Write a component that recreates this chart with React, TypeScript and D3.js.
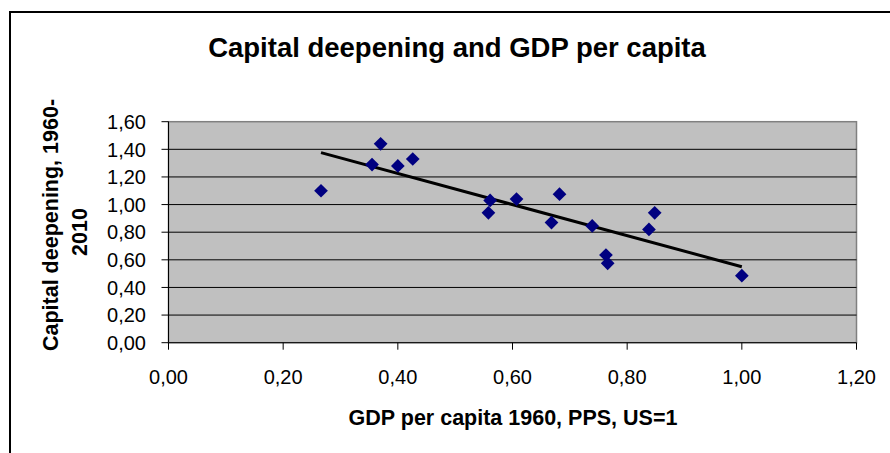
import React from "react";
import * as d3 from "d3";

const gdpPerCapita1960 = [0.266, 0.355, 0.370, 0.400, 0.426, 0.558, 0.561, 0.607, 0.668, 0.682, 0.739, 0.763, 0.766, 0.838, 0.848, 1.000];
const capitalDeepening = [1.10, 1.29, 1.44, 1.28, 1.33, 0.94, 1.03, 1.04, 0.87, 1.075, 0.845, 0.635, 0.575, 0.82, 0.94, 0.485];
const trendX = [0.266, 1.0];
const trendY = [1.376, 0.550];
const xTicks = [0, 0.2, 0.4, 0.6, 0.8, 1.0, 1.2];
const yTicks = [0, 0.2, 0.4, 0.6, 0.8, 1.0, 1.2, 1.4, 1.6];
const title = "Capital deepening and GDP per capita";
const xTitle = "GDP per capita 1960, PPS, US=1";
const yTitleLines = ["Capital deepening, 1960-", "2010"];

const W = 890, H = 453;
const plot = { left: 168.5, right: 856.5, top: 121.7, bottom: 342.7 };
const FONT = "'Liberation Sans', Arial, sans-serif";
const fmt = (v: number) => d3.format(".2f")(v).replace(".", ",");

export default function App() {
  const x = d3.scaleLinear().domain([0, 1.2]).range([plot.left, plot.right]);
  const y = d3.scaleLinear().domain([0, 1.6]).range([plot.bottom, plot.top]);
  const line = d3.line<number>().x((d) => x(d)).y((_, i) => y(trendY[i]));
  const diamond = d3.symbol().type(d3.symbolDiamond2).size(120)();

  return (
    <svg width={W} height={H} style={{ position: "absolute", left: 0, top: 0, background: "#fff" }} fontFamily={FONT}>
      <rect x={0} y={0} width={W} height={H} fill="#fff" />
      {/* outer chart border */}
      <path d={`M10,${H + 5} L10,12 L${W + 5},12`} fill="none" stroke="#000" strokeWidth={2} />
      <text x={457} y={57} textAnchor="middle" fontSize={27.5} fontWeight="bold">{title}</text>

      {/* plot area */}
      <rect x={plot.left} y={plot.top} width={plot.right - plot.left} height={plot.bottom - plot.top} fill="#C0C0C0" stroke="#808080" strokeWidth={1.5} />
      {yTicks.filter((t) => t > 0 && t < 1.6).map((t) => (
        <line key={t} x1={plot.left} x2={plot.right} y1={y(t)} y2={y(t)} stroke="#000" strokeWidth={1} />
      ))}
      {/* axes */}
      <line x1={plot.left} x2={plot.left} y1={plot.top} y2={plot.bottom} stroke="#000" strokeWidth={1} />
      <line x1={plot.left} x2={plot.right} y1={plot.bottom} y2={plot.bottom} stroke="#000" strokeWidth={1} />
      {yTicks.map((t) => (
        <g key={t}>
          <line x1={plot.left - 7} x2={plot.left} y1={y(t)} y2={y(t)} stroke="#000" />
          <text x={146} y={y(t)} dy="0.36em" textAnchor="end" fontSize={20}>{fmt(t)}</text>
        </g>
      ))}
      {xTicks.map((t) => (
        <g key={t}>
          <line x1={x(t)} x2={x(t)} y1={plot.bottom} y2={plot.bottom + 7} stroke="#000" />
          <text x={x(t)} y={384} textAnchor="middle" fontSize={20}>{fmt(t)}</text>
        </g>
      ))}
      <text x={513} y={425} textAnchor="middle" fontSize={21.5} fontWeight="bold">{xTitle}</text>
      <text transform={`translate(58,225) rotate(-90)`} textAnchor="middle" fontSize={21.5} fontWeight="bold">{yTitleLines[0]}</text>
      <text transform={`translate(87,232) rotate(-90)`} textAnchor="middle" fontSize={21.5} fontWeight="bold">{yTitleLines[1]}</text>

      {/* trend line */}
      <path d={line(trendX) || ""} fill="none" stroke="#000" strokeWidth={3} />
      {/* markers */}
      {gdpPerCapita1960.map((g, i) => (
        <path key={i} d={diamond || ""} transform={`translate(${x(g)},${y(capitalDeepening[i])})`} fill="#000080" />
      ))}
    </svg>
  );
}
